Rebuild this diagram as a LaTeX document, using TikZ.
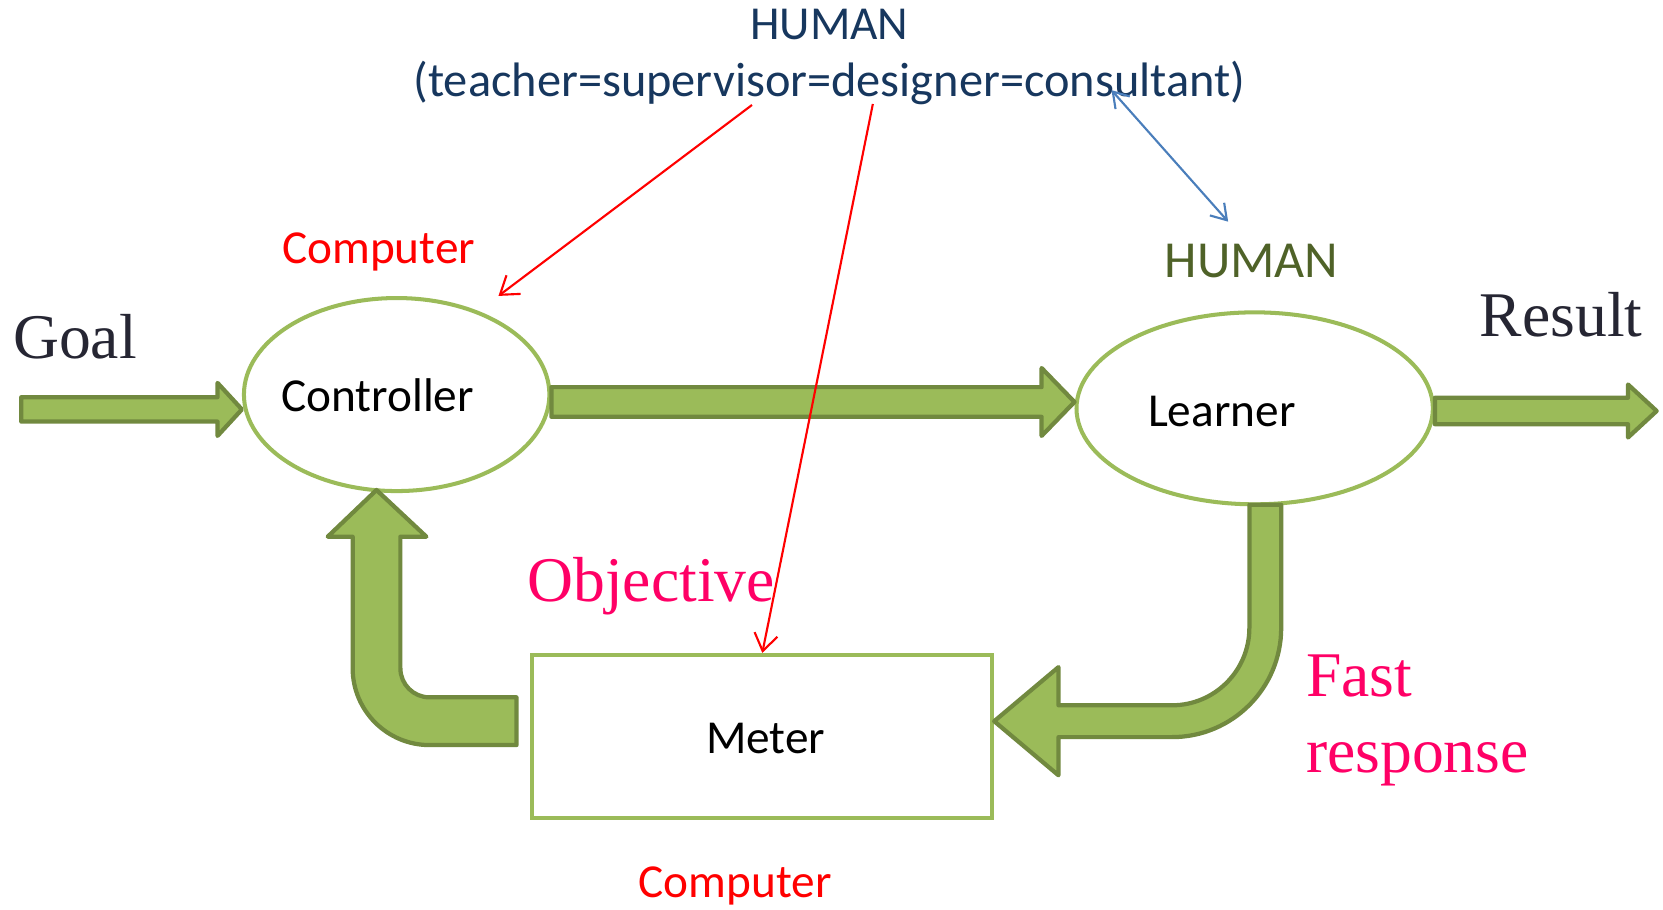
\documentclass[tikz,border=0pt]{standalone}
\usepackage{fontspec}
\setmainfont{Liberation Serif}
\newfontfamily\calib{Carlito}
\usetikzlibrary{calc,shapes.geometric,arrows.meta}
\definecolor{olivegreen}{HTML}{9BBB59}
\definecolor{olivedark}{HTML}{71893F}
\definecolor{navytext}{HTML}{17375E}
\definecolor{darkolive}{HTML}{4F6228}
\definecolor{hotpink}{HTML}{FF0066}
\definecolor{inktext}{HTML}{262633}
\definecolor{linkblue}{HTML}{4A7EBB}
% horizontal block arrow: #1 tail, #2 tip, #3 shaft half width, #4 head half width, #5 head length
\newcommand{\hfat}[5]{%
  \filldraw[fat] ($(#1)+(0,-#3)$) -- ($(#2)+(-#5,-#3)$) -- ($(#2)+(-#5,-#4)$) -- (#2)
    -- ($(#2)+(-#5,#4)$) -- ($(#2)+(-#5,#3)$) -- ($(#1)+(0,#3)$) -- cycle;}
\begin{document}
\begin{tikzpicture}[x=0.5pt,y=-0.5pt,
  fat/.style={fill=olivegreen, draw=olivedark, line width=2pt, line join=round},
  oval/.style={ellipse, draw=olivegreen, line width=1.9pt, fill=white, inner sep=0pt},
  boxnode/.style={rectangle, draw=olivegreen, line width=1.9pt, fill=white, inner sep=0pt},
  sanslbl/.style={font=\calib\fontsize{22.3}{27}\selectfont, inner sep=0pt},
  seriflbl/.style={font=\fontsize{30}{36}\selectfont, inner sep=0pt},
  redarr/.style={draw=red, line width=1pt, -{Straight Barb[length=8pt,width=11pt]}},
  bluearr/.style={draw=linkblue, line width=1pt, {Straight Barb[length=7pt,width=9pt]}-{Straight Barb[length=7pt,width=9pt]}}
]
\useasboundingbox (0,0) rectangle (1568,858);

% shapes
\node[oval, minimum width=144pt, minimum height=91pt] (ctrl) at (374,372) {};
\node[oval, minimum width=168pt, minimum height=90.5pt] (learn) at (1183,385) {};
\node[boxnode, minimum width=216.75pt, minimum height=76.75pt] (meter) at (718.75,694.25) {};

% block arrows (horizontal)
\coordinate (goaltail) at (20,386);
\coordinate (goaltip) at (ctrl.west |- goaltail);
\hfat{goaltail}{goaltip}{11.5}{25}{23}

\coordinate (midy) at (0,379);
\coordinate (midtail) at (ctrl.east |- midy);
\coordinate (midtip) at (learn.west |- midy);
\hfat{midtail}{midtip}{14}{32}{31}

\coordinate (resy) at (0,387.5);
\coordinate (restail) at (learn.east |- resy);
\coordinate (restip) at (1562,387.5);
\hfat{restail}{restip}{12.5}{25}{27}

% feedback arrow from Learner down to Meter
\filldraw[fat] (1178,476) -- (1178,592) arc[start angle=0, end angle=90, radius=73]
  -- (998,665) -- (998,629) -- (meter.east |- 0,680) -- (998,731) -- (998,695) -- (1105,695)
  arc[start angle=90, end angle=0, radius=103] -- (1208,476) -- cycle;

% feedback arrow from Meter up to Controller
\filldraw[fat] (487,657.5) -- (405,657.5) arc[start angle=90, end angle=180, radius=27.5]
  -- (377.5,506) -- (402,506) -- (355,462) -- (309,506) -- (332.5,506) -- (332.5,630)
  arc[start angle=180, end angle=90, radius=72.5] -- (487,702.5) -- cycle;

% texts
\node[sanslbl, text=navytext, anchor=base] (humtop) at (782,37) {HUMAN};
\node[font=\calib\fontsize{22.8}{27}\selectfont, inner sep=0pt, text=navytext, anchor=base] (roles) at (782,91) {(teacher=supervisor=designer=consultant)};
\node[sanslbl, text=red, anchor=base] (comptop) at (357,248) {Computer};
\node[font=\calib\fontsize{24.5}{29}\selectfont, inner sep=0pt, text=darkolive, anchor=base] (humright) at (1180,262) {HUMAN};
\node[seriflbl, text=inktext, anchor=base west] (goal) at (12,338) {Goal};
\node[seriflbl, text=inktext, anchor=base west] (result) at (1395,317) {Result};
\node[sanslbl, anchor=base] (ctrltxt) at (356,388) {Controller};
\node[sanslbl, anchor=base] (learntxt) at (1152,402) {Learner};
\node[sanslbl, anchor=base] (metertxt) at (722,710) {Meter};
\node[seriflbl, text=hotpink, anchor=base west] (objective) at (497,567) {Objective};
\node[seriflbl, text=hotpink, anchor=base west] (fast) at (1231,657) {Fast};
\node[seriflbl, text=hotpink, anchor=base west] (response) at (1231,728) {response};
\node[sanslbl, text=red, anchor=base] (compbot) at (693,846) {Computer};

% thin connectors
\coordinate (redsrcA) at (709,99);
\coordinate (ctrlptr) at (470,279);
\coordinate (redsrcB) at (823,98);
\coordinate (bluesrc) at (1048,85);
\coordinate (bluedst) at (1158,209);
\draw[redarr] (redsrcA) -- (ctrlptr);
\draw[redarr] (redsrcB) -- (meter.north);
\draw[bluearr] (bluesrc) -- (bluedst);
\end{tikzpicture}
\end{document}
